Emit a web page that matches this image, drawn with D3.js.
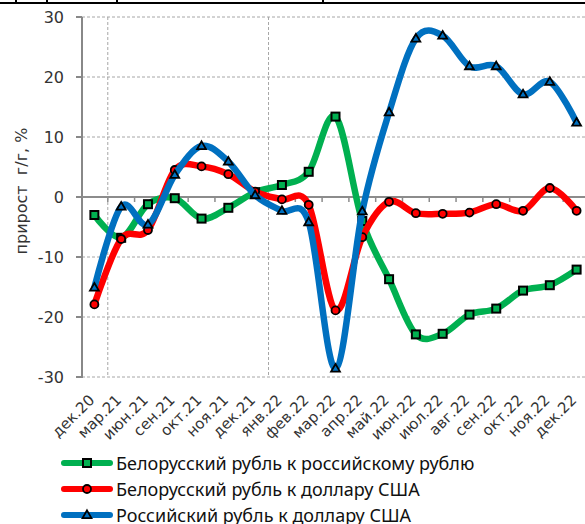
<!DOCTYPE html>
<html>
<head>
<meta charset="utf-8">
<style>
  body { margin: 0; background: #fff; }
  svg { display: block; }
  .grid line { stroke: #a6a6a6; stroke-dasharray: 3,2; stroke-width: 1; }
  .tick-lbl { font-family: "DejaVu Sans", sans-serif; font-size: 16px; fill: #333; }
  .x-lbl { font-family: "DejaVu Sans", sans-serif; font-size: 15px; fill: #333; }
  .legend text { font-family: "Noto Sans", sans-serif; font-size: 18px; fill: #111; }
</style>
</head>
<body>
<svg id="chart" width="585" height="524"></svg>
<script src="https://cdn.jsdelivr.net/npm/d3@7"></script>
<script>
// months (dec 2020, then quarterly, then monthly)
let months = ["дек.20", "мар.21", "июн.21", "сен.21", "окт.21", "ноя.21", "дек.21",
  "янв.22", "фев.22", "мар.22", "апр.22", "май.22", "июн.22", "июл.22", "авг.22",
  "сен.22", "окт.22", "ноя.22", "дек.22"]

// growth y/y, %
let bynRub = [-3.0, -6.8, -1.2, -0.2, -3.6, -1.8, 0.8, 2.0, 4.2, 13.4, -4.0, -13.7,
  -22.9, -22.8, -19.6, -18.6, -15.6, -14.7, -12.1]
let bynUsd = [-17.9, -7.0, -5.5, 4.5, 5.1, 3.8, 0.9, -0.4, -1.3, -18.9, -6.7, -0.8,
  -2.7, -2.8, -2.6, -1.2, -2.3, 1.5, -2.3]
let rubUsd = [-15.1, -1.6, -4.6, 3.7, 8.5, 5.9, 0.3, -2.3, -4.2, -28.6, -2.4, 14.1,
  26.4, 26.9, 21.8, 21.8, 17.1, 19.2, 12.4]

let yTicks = [-30, -20, -10, 0, 10, 20, 30]

let series = [
  { name: "Белорусский рубль к российскому рублю", values: bynRub, color: "#00b050", marker: "square" },
  { name: "Белорусский рубль к доллару США", values: bynUsd, color: "#ff0000", marker: "circle" },
  { name: "Российский рубль к доллару США", values: rubUsd, color: "#0070c0", marker: "triangle" }
]

let svg = d3.select("#chart")

// bits of the table border above the chart
svg.append("line").attr("x1", 0).attr("x2", 585).attr("y1", 3).attr("y2", 3)
  .attr("stroke", "#000").attr("stroke-width", 2)
;[16, 47, 117, 323].forEach(x => {
  svg.append("line").attr("x1", x).attr("x2", x).attr("y1", 0).attr("y2", 3)
    .attr("stroke", "#000").attr("stroke-width", 2)
})

let xScale = d3.scaleBand().domain(months).range([81, 590]).padding(0)
let yScale = d3.scaleLinear().domain([-30, 30]).range([377, 17])
let cx = d => xScale(d) + xScale.bandwidth() / 2

// horizontal dashed grid
svg.append("g").attr("class", "grid")
  .selectAll("line").data(yTicks.filter(t => t != 0)).join("line")
  .attr("x1", 82).attr("x2", 585)
  .attr("y1", d => yScale(d)).attr("y2", d => yScale(d))

// vertical year separators
svg.append("g").attr("class", "grid")
  .selectAll("line").data(["мар.21", "янв.22"]).join("line")
  .attr("x1", d => xScale(d)).attr("x2", d => xScale(d))
  .attr("y1", yScale(30)).attr("y2", yScale(-30))

// y axis
svg.append("line").attr("x1", 82).attr("x2", 82)
  .attr("y1", yScale(30)).attr("y2", yScale(-30) + 1)
  .attr("stroke", "#888").attr("stroke-width", 2)
svg.append("g").selectAll("line").data(yTicks).join("line")
  .attr("x1", 76).attr("x2", 82)
  .attr("y1", d => yScale(d)).attr("y2", d => yScale(d))
  .attr("stroke", "#888").attr("stroke-width", 2)
svg.append("g").selectAll("text").data(yTicks).join("text")
  .attr("class", "tick-lbl")
  .attr("x", 64).attr("y", d => yScale(d) + 6)
  .attr("text-anchor", "end")
  .text(d => d)

// zero line with ticks at month boundaries
svg.append("line").attr("x1", 82).attr("x2", 585)
  .attr("y1", yScale(0)).attr("y2", yScale(0))
  .attr("stroke", "#8c8c8c").attr("stroke-width", 2)
svg.append("g").selectAll("line").data(months.slice(1)).join("line")
  .attr("x1", d => xScale(d)).attr("x2", d => xScale(d))
  .attr("y1", yScale(0)).attr("y2", yScale(0) + 5)
  .attr("stroke", "#8c8c8c").attr("stroke-width", 1.5)

// y title
svg.append("text")
  .attr("transform", "translate(27," + 191 + ") rotate(-90)")
  .attr("text-anchor", "middle")
  .style("white-space", "pre")
  .style("font-family", "DejaVu Sans, sans-serif").style("font-size", "16px").style("fill", "#333")
  .text("прирост  г/г, %")

// x labels rotated
svg.append("g").selectAll("text").data(months).join("text")
  .attr("class", "x-lbl")
  .attr("text-anchor", "end")
  .attr("transform", d => "translate(" + (cx(d) + 1) + ",401) rotate(-45)")
  .text(d => d)

let line = d3.line()
  .x((d, i) => cx(months[i]))
  .y(d => yScale(d))
  .curve(d3.curveCardinal.tension(0))

let tri = d3.symbol().type(d3.symbolTriangle).size(34)

function drawMarker(g, type, color, x, y) {
  if (type == "square") {
    g.append("rect").attr("x", x - 4).attr("y", y - 4).attr("width", 8).attr("height", 8)
      .attr("fill", color).attr("stroke", "#000").attr("stroke-width", 2)
  } else if (type == "circle") {
    g.append("circle").attr("cx", x).attr("cy", y).attr("r", 4)
      .attr("fill", color).attr("stroke", "#000").attr("stroke-width", 1.8)
  } else {
    g.append("path").attr("d", tri).attr("transform", "translate(" + x + "," + (y + 0.5) + ")")
      .attr("fill", color).attr("stroke", "#000").attr("stroke-width", 1.8)
  }
}

series.forEach(s => {
  let g = svg.append("g")
  g.append("path").datum(s.values)
    .attr("d", line)
    .attr("fill", "none")
    .attr("stroke", s.color)
    .attr("stroke-width", 6.5)
    .attr("stroke-linecap", "round")
  s.values.forEach((v, i) => drawMarker(g, s.marker, s.color, cx(months[i]), yScale(v)))
})

// legend
let legend = svg.append("g").attr("class", "legend")
series.forEach((s, i) => {
  let y = 463 + i * 26
  legend.append("line").attr("x1", 64).attr("x2", 110).attr("y1", y).attr("y2", y)
    .attr("stroke", s.color).attr("stroke-width", 6).attr("stroke-linecap", "round")
  drawMarker(legend, s.marker, s.color, 87, y)
  legend.append("text").attr("x", 116).attr("y", y + 7).text(s.name)
})
</script>
</body>
</html>
